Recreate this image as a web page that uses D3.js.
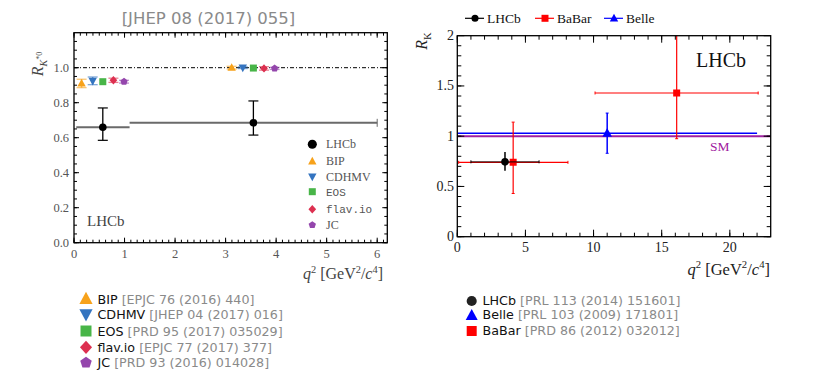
<!DOCTYPE html>
<html>
<head>
  <meta charset="utf-8">
  <title>R_K and R_K*0 comparison</title>
  <script src="https://d3js.org/d3.v7.min.js"></script>
  <style>
    body { margin: 0; background: white; }
    .serif { font-family: "Liberation Serif", "DejaVu Serif", serif; }
    .sans { font-family: "DejaVu Sans", "Open Sans", sans-serif; }
  </style>
</head>
<body>
<script>
  // ---- Left panel data (R_K*0) ----
  var kstBins = [[0.045, 1.1], [1.1, 6.0]];
  var kstX = [0.57, 3.55];
  var kstVal = [0.66, 0.685];
  var kstUp = [0.11, 0.125];
  var kstDown = [0.075, 0.07];

  var thNames = ["BIP", "CDHMV", "EOS", "flav.io", "JC"];
  var thCites = ["[EPJC 76 (2016) 440]", "[JHEP 04 (2017) 016]", "[PRD 95 (2017) 035029]",
                 "[EPJC 77 (2017) 377]", "[PRD 93 (2016) 014028]"];
  var thColors = ["#f7a21b", "#3474c0", "#48b548", "#dd3050", "#9446ac"];
  var thShapes = ["triUp", "triDown", "square", "diamond", "pentagon"];
  var thLowX = [0.15, 0.37, 0.57, 0.78, 0.99];
  var thLowY = [0.91, 0.925, 0.92, 0.928, 0.92];
  var thLowErr = [0.024, 0.022, 0.006, 0.012, 0.008];
  var thHighX = [3.12, 3.34, 3.55, 3.76, 3.97];
  var thHighY = [1.0, 1.0, 0.998, 0.996, 0.996];
  var thHighErr = [0.008, 0.005, 0.007, 0.01, 0.006];

  var leftXTicks = [0, 1, 2, 3, 4, 5, 6];
  var leftYTicks = [0, 0.2, 0.4, 0.6, 0.8, 1.0];

  // ---- Right panel data (R_K) ----
  var rkNames = ["LHCb", "BaBar", "Belle"];
  var lhcbK = {x: 3.5, lo: 1.0, hi: 6.0, y: 0.745, up: 0.098, down: 0.088};
  var babarX = [4.1, 16.1];
  var babarBins = [[0.1, 8.12], [10.11, 22.08]];
  var babarY = [0.74, 1.43];
  var babarErrLo = [0.43, 0.975];
  var babarErrHi = [1.14, 2.2];
  var belle = {x: 11.0, lo: 0.0, hi: 22.0, y: 1.03, errLo: 0.83, errHi: 1.23};
  var smValue = 1.0;

  var rightXTicks = [0, 5, 10, 15, 20];
  var rightYTicks = [0, 0.5, 1, 1.5, 2];

  var rkLegNames = ["LHCb", "Belle", "BaBar"];
  var rkLegCites = ["[PRL 113 (2014) 151601]", "[PRL 103 (2009) 171801]", "[PRD 86 (2012) 032012]"];

  var width = 830, height = 377;
  var svg = d3.select("body").append("svg")
      .attr("width", width).attr("height", height);

  function markerPath(shape, size) {
    var s = size;
    switch (shape) {
      case "triUp": return "M0," + (-s * 0.65) + "L" + (s * 0.6) + "," + (s * 0.45) + "L" + (-s * 0.6) + "," + (s * 0.45) + "Z";
      case "triDown": return "M0," + (s * 0.65) + "L" + (s * 0.6) + "," + (-s * 0.45) + "L" + (-s * 0.6) + "," + (-s * 0.45) + "Z";
      case "square": return "M" + (-s / 2) + "," + (-s / 2) + "h" + s + "v" + s + "h" + (-s) + "Z";
      case "diamond": return "M0," + (-s * 0.6) + "L" + (s * 0.55) + ",0L0," + (s * 0.6) + "L" + (-s * 0.55) + ",0Z";
      case "pentagon":
        var pts = d3.range(5).map(function(i) {
          var a = -Math.PI / 2 + i * 2 * Math.PI / 5;
          return [Math.cos(a) * s * 0.55, Math.sin(a) * s * 0.55];
        });
        return "M" + pts.join("L") + "Z";
      case "circle": return d3.symbol(d3.symbolCircle, s * s * 0.8)();
    }
  }

  // inward ticks on all four sides
  function frameTicks(g, x, y, xMajor, xMinor, yMajor, yMinor, majLen, minLen) {
    var x0 = x.range()[0], x1 = x.range()[1], y0 = y.range()[0], y1 = y.range()[1];
    g.append("rect").attr("x", x0).attr("y", y1).attr("width", x1 - x0).attr("height", y0 - y1)
      .attr("fill", "none").attr("stroke", "#000").attr("stroke-width", 1.3);
    function tk(vals, len, isX) {
      vals.forEach(function(v) {
        if (isX) {
          var px = x(v);
          g.append("line").attr("x1", px).attr("x2", px).attr("y1", y0).attr("y2", y0 - len).attr("stroke", "#000");
          g.append("line").attr("x1", px).attr("x2", px).attr("y1", y1).attr("y2", y1 + len).attr("stroke", "#000");
        } else {
          var py = y(v);
          g.append("line").attr("y1", py).attr("y2", py).attr("x1", x0).attr("x2", x0 + len).attr("stroke", "#000");
          g.append("line").attr("y1", py).attr("y2", py).attr("x1", x1).attr("x2", x1 - len).attr("stroke", "#000");
        }
      });
    }
    tk(xMinor, minLen, true); tk(xMajor, majLen, true);
    tk(yMinor, minLen, false); tk(yMajor, majLen, false);
  }

  function q2Label(g, x, y, size, color) {
    var t = g.append("text").attr("class", "serif").attr("x", x).attr("y", y)
      .attr("text-anchor", "end").attr("font-size", size).attr("fill", color);
    var sup = size * 0.65, up = -size * 0.4;
    t.append("tspan").attr("font-style", "italic").text("q");
    t.append("tspan").attr("font-size", sup).attr("dy", up).text("2");
    t.append("tspan").attr("dy", -up).text(" [GeV");
    t.append("tspan").attr("font-size", sup).attr("dy", up).text("2");
    t.append("tspan").attr("dy", -up).text("/");
    t.append("tspan").attr("font-style", "italic").text("c");
    t.append("tspan").attr("font-size", sup).attr("dy", up).text("4");
    t.append("tspan").attr("dy", -up).text("]");
  }

  // ================= LEFT PANEL =================
  var xL = d3.scaleLinear().domain([0, 6.2]).range([74, 387.3]);
  var yL = d3.scaleLinear().domain([0, 1.2]).range([242.7, 32.7]);
  var gL = svg.append("g");

  svg.append("text").attr("class", "sans")
     .attr("x", 208.5).attr("y", 23.5).attr("text-anchor", "middle")
     .attr("font-size", 16.5).attr("fill", "#8a8a8a")
     .text("[JHEP 08 (2017) 055]");

  // SM dotted line
  gL.append("line").attr("x1", xL(0)).attr("x2", xL(6.2)).attr("y1", yL(1)).attr("y2", yL(1))
    .attr("stroke", "#000").attr("stroke-width", 1).attr("stroke-dasharray", "4,2,1,2");

  // theory predictions
  function drawTheory(xs, ys, errs) {
    xs.forEach(function(xv, i) {
      var px = xL(xv), c = thColors[i];
      var w = (i === 2) ? 3 : 5;
      gL.append("line").attr("x1", px).attr("x2", px).attr("y1", yL(ys[i] + errs[i])).attr("y2", yL(ys[i] - errs[i]))
        .attr("stroke", c).attr("stroke-width", 1.5).attr("opacity", 0.7);
      [ys[i] + errs[i], ys[i] - errs[i]].forEach(function(v) {
        gL.append("line").attr("x1", px - w).attr("x2", px + w).attr("y1", yL(v)).attr("y2", yL(v))
          .attr("stroke", c).attr("stroke-width", 1.3).attr("opacity", 0.6);
      });
      gL.append("path").attr("d", markerPath(thShapes[i], 7))
        .attr("transform", "translate(" + px + "," + yL(ys[i]) + ")").attr("fill", c);
    });
  }
  drawTheory(thLowX, thLowY, thLowErr);
  drawTheory(thHighX, thHighY, thHighErr);

  // LHCb R_K*0 measurements
  kstX.forEach(function(xv, i) {
    gL.append("line").attr("x1", xL(kstBins[i][0])).attr("x2", xL(kstBins[i][1]))
      .attr("y1", yL(kstVal[i])).attr("y2", yL(kstVal[i]))
      .attr("stroke", "#6a6a6a").attr("stroke-width", 2);
    if (i === 1) {
      gL.append("line").attr("x1", xL(kstBins[i][1])).attr("x2", xL(kstBins[i][1]))
        .attr("y1", yL(kstVal[i]) - 4).attr("y2", yL(kstVal[i]) + 4).attr("stroke", "#6a6a6a").attr("stroke-width", 1);
    }
    var px = xL(xv);
    gL.append("line").attr("x1", px).attr("x2", px)
      .attr("y1", yL(kstVal[i] + kstUp[i])).attr("y2", yL(kstVal[i] - kstDown[i]))
      .attr("stroke", "#000").attr("stroke-width", 1.3);
    [kstVal[i] + kstUp[i], kstVal[i] - kstDown[i]].forEach(function(v) {
      gL.append("line").attr("x1", px - 5).attr("x2", px + 5).attr("y1", yL(v)).attr("y2", yL(v))
        .attr("stroke", "#000").attr("stroke-width", 1.2);
    });
    gL.append("circle").attr("cx", px).attr("cy", yL(kstVal[i])).attr("r", 3.8).attr("fill", "#000");
  });

  frameTicks(gL, xL, yL, leftXTicks, d3.range(0, 6.2, 0.125),
             leftYTicks, d3.range(0, 1.2, 0.05), 5, 3);

  leftXTicks.forEach(function(v) {
    gL.append("text").attr("class", "serif").attr("x", xL(v)).attr("y", 258)
      .attr("text-anchor", "middle").attr("font-size", 12.5).attr("fill", "#555").text(d3.format("d")(v));
  });
  leftYTicks.forEach(function(v) {
    gL.append("text").attr("class", "serif").attr("x", 69).attr("y", yL(v) + 4)
      .attr("text-anchor", "end").attr("font-size", 12.5).attr("fill", "#555").text(d3.format(".1f")(v));
  });

  q2Label(gL, 383, 279, 16, "#444");

  var yt = gL.append("text").attr("class", "serif").attr("transform", "translate(43,64) rotate(-90)")
    .attr("text-anchor", "middle").attr("font-size", 16).attr("fill", "#444");
  yt.append("tspan").attr("font-style", "italic").text("R");
  yt.append("tspan").attr("font-style", "italic").attr("font-size", 10).attr("dy", 4).text("K");
  yt.append("tspan").attr("font-size", 8).attr("dy", -5).text("*0");

  gL.append("text").attr("class", "serif").attr("x", 87).attr("y", 226)
    .attr("font-size", 15).attr("fill", "#444").text("LHCb");

  // inner legend
  var innerNames = ["LHCb"].concat(thNames);
  var innerColors = ["#000"].concat(thColors);
  var innerShapes = ["circle"].concat(thShapes);
  var innerY = [144.3, 161.3, 176.7, 191.7, 209.3, 225];
  innerNames.forEach(function(n, i) {
    gL.append("path").attr("d", markerPath(innerShapes[i], innerShapes[i] === "circle" ? 9 : 7))
      .attr("transform", "translate(312.3," + innerY[i] + ")").attr("fill", innerColors[i]);
    var mono = (n === "flav.io" || n === "EOS");
    gL.append("text").attr("x", 326).attr("y", innerY[i] + 4)
      .attr("font-family", mono ? "'Liberation Mono', 'DejaVu Sans Mono', monospace" : "'Liberation Serif', serif")
      .attr("font-size", mono ? 11 : 12).attr("fill", "#555").text(n);
  });

  // bottom legend (left)
  var legLY = [299, 314.3, 331, 347.3, 362.7];
  thNames.forEach(function(n, i) {
    svg.append("path").attr("d", markerPath(thShapes[i], 11))
      .attr("transform", "translate(86," + legLY[i] + ")").attr("fill", thColors[i]);
    var t = svg.append("text").attr("class", "sans").attr("x", 97.5).attr("y", legLY[i] + 4.5)
      .attr("font-size", 12.7);
    t.append("tspan").attr("fill", "#111").text(n + " ");
    t.append("tspan").attr("fill", "#8a8a8a").text(thCites[i]);
  });

  // ================= RIGHT PANEL =================
  var xR = d3.scaleLinear().domain([0, 23]).range([457.3, 770.7]);
  var yR = d3.scaleLinear().domain([0, 2]).range([236.7, 35.7]);
  var gR = svg.append("g");
  svg.append("clipPath").attr("id", "clipR").append("rect")
    .attr("x", xR(0)).attr("y", yR(2)).attr("width", xR(23) - xR(0)).attr("height", yR(0) - yR(2));
  var gD = gR.append("g").attr("clip-path", "url(#clipR)");

  // Belle band line
  gD.append("line").attr("x1", xR(belle.lo)).attr("x2", xR(belle.hi)).attr("y1", yR(belle.y)).attr("y2", yR(belle.y))
    .attr("stroke", "#0000ff").attr("stroke-width", 1.5);
  // SM
  gD.append("line").attr("x1", xR(0)).attr("x2", xR(23)).attr("y1", yR(smValue)).attr("y2", yR(smValue))
    .attr("stroke", "#a020a0").attr("stroke-width", 2);
  gD.append("line").attr("x1", xR(belle.x)).attr("x2", xR(belle.x)).attr("y1", yR(belle.errHi)).attr("y2", yR(belle.errLo))
    .attr("stroke", "#0000ff").attr("stroke-width", 1.5);
  [belle.errLo, belle.errHi].forEach(function(v) {
    gD.append("line").attr("x1", xR(belle.x) - 1.5).attr("x2", xR(belle.x) + 1.5)
      .attr("y1", yR(v)).attr("y2", yR(v)).attr("stroke", "#0000ff");
  });
  gD.append("path").attr("d", markerPath("triUp", 8))
    .attr("transform", "translate(" + xR(belle.x) + "," + yR(belle.y) + ")").attr("fill", "#0000ff");

  // BaBar
  babarX.forEach(function(xv, i) {
    gD.append("line").attr("x1", xR(babarBins[i][0])).attr("x2", xR(babarBins[i][1]))
      .attr("y1", yR(babarY[i])).attr("y2", yR(babarY[i])).attr("stroke", "#ff0000").attr("stroke-width", 1.2);
    gD.append("line").attr("x1", xR(xv)).attr("x2", xR(xv))
      .attr("y1", yR(babarErrHi[i])).attr("y2", yR(babarErrLo[i])).attr("stroke", "#ff0000").attr("stroke-width", 1.2);
    babarBins[i].forEach(function(b) {
      gD.append("line").attr("x1", xR(b)).attr("x2", xR(b))
        .attr("y1", yR(babarY[i]) - 1.5).attr("y2", yR(babarY[i]) + 1.5).attr("stroke", "#ff0000");
    });
    [babarErrLo[i], babarErrHi[i]].forEach(function(v) {
      gD.append("line").attr("x1", xR(xv) - 1.5).attr("x2", xR(xv) + 1.5)
        .attr("y1", yR(v)).attr("y2", yR(v)).attr("stroke", "#ff0000");
    });
    gD.append("path").attr("d", markerPath("square", 7))
      .attr("transform", "translate(" + xR(xv) + "," + yR(babarY[i]) + ")").attr("fill", "#ff0000");
  });

  // LHCb R_K
  gD.append("line").attr("x1", xR(lhcbK.lo)).attr("x2", xR(lhcbK.hi)).attr("y1", yR(lhcbK.y)).attr("y2", yR(lhcbK.y))
    .attr("stroke", "#000").attr("stroke-width", 1.2).attr("opacity", 0.75);
  [lhcbK.lo, lhcbK.hi].forEach(function(v) {
    gD.append("line").attr("x1", xR(v)).attr("x2", xR(v)).attr("y1", yR(lhcbK.y) - 1.5).attr("y2", yR(lhcbK.y) + 1.5)
      .attr("stroke", "#000");
  });
  gD.append("line").attr("x1", xR(lhcbK.x)).attr("x2", xR(lhcbK.x))
    .attr("y1", yR(lhcbK.y + lhcbK.up)).attr("y2", yR(lhcbK.y - lhcbK.down)).attr("stroke", "#000").attr("stroke-width", 1.5);
  gD.append("circle").attr("cx", xR(lhcbK.x)).attr("cy", yR(lhcbK.y)).attr("r", 3.8).attr("fill", "#000");

  frameTicks(gR, xR, yR, rightXTicks, d3.range(0, 23, 1),
             rightYTicks, d3.range(0, 2, 0.1), 7, 4);

  rightXTicks.forEach(function(v) {
    gR.append("text").attr("class", "serif").attr("x", xR(v)).attr("y", 251.5)
      .attr("text-anchor", "middle").attr("font-size", 14).attr("fill", "#222").text(String(v));
  });
  rightYTicks.forEach(function(v) {
    gR.append("text").attr("class", "serif").attr("x", 454).attr("y", yR(v) + 4.5)
      .attr("text-anchor", "end").attr("font-size", 14).attr("fill", "#222").text(String(v));
  });

  q2Label(gR, 770, 275, 16.5, "#222");

  var yt2 = gR.append("text").attr("class", "serif").attr("transform", "translate(427,41) rotate(-90)")
    .attr("text-anchor", "middle").attr("font-size", 16).attr("fill", "#222");
  yt2.append("tspan").attr("font-style", "italic").text("R");
  yt2.append("tspan").attr("font-size", 10.5).attr("dy", 4).text("K");

  gR.append("text").attr("class", "serif").attr("x", 696).attr("y", 67)
    .attr("font-size", 20).attr("fill", "#111").text("LHCb");
  gR.append("text").attr("class", "serif").attr("x", 710).attr("y", 151)
    .attr("font-size", 13.5).attr("fill", "#a020a0").text("SM");

  // top legend
  var topLegX = [465, 535, 604];
  var topColors = ["#000", "#ff0000", "#0000ff"];
  var topShapes = ["circle", "square", "triUp"];
  rkNames.forEach(function(n, i) {
    var lx = topLegX[i];
    svg.append("line").attr("x1", lx).attr("x2", lx + 19).attr("y1", 18.3).attr("y2", 18.3)
      .attr("stroke", topColors[i]).attr("stroke-width", 1.2);
    svg.append("path").attr("d", markerPath(topShapes[i], 7))
      .attr("transform", "translate(" + (lx + 10) + ",18.3)").attr("fill", topColors[i]);
    svg.append("text").attr("class", "serif").attr("x", lx + 22).attr("y", 22.5)
      .attr("font-size", 13.5).attr("fill", "#111").text(n);
  });

  // bottom legend (right)
  var legRY = [300, 314.5, 330];
  var legRColors = ["#222", "#0000ff", "#ff0000"];
  var legRShapes = ["circle", "triUp", "square"];
  rkLegNames.forEach(function(n, i) {
    svg.append("path").attr("d", markerPath(legRShapes[i], 10))
      .attr("transform", "translate(471.7," + (legRY[i] + 1) + ")").attr("fill", legRColors[i]);
    var t = svg.append("text").attr("class", "sans").attr("x", 482.5).attr("y", legRY[i] + 4.5)
      .attr("font-size", 12.7);
    t.append("tspan").attr("fill", "#111").text(n + " ");
    t.append("tspan").attr("fill", "#8a8a8a").text(rkLegCites[i]);
  });
</script>
</body>
</html>
